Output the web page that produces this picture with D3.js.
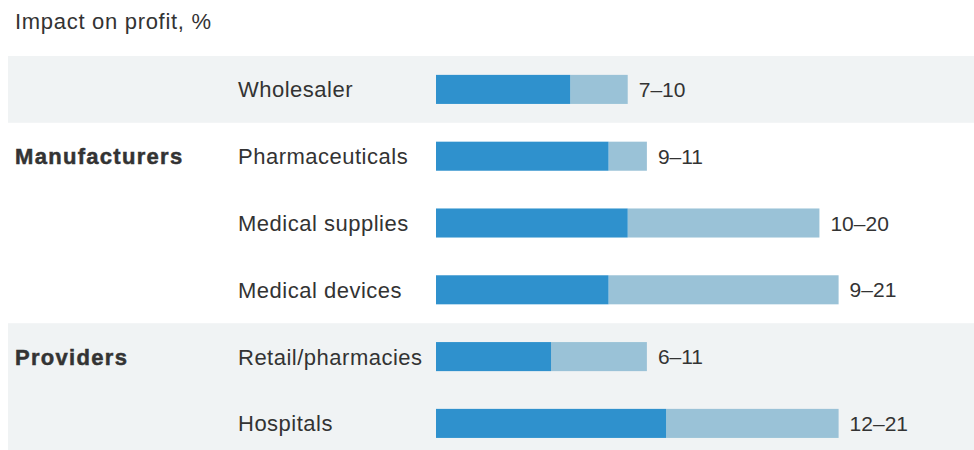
<!DOCTYPE html>
<html>
<head>
<meta charset="utf-8">
<script src="https://cdn.jsdelivr.net/npm/d3@7/dist/d3.min.js"></script>
<style>
    html, body { margin: 0; padding: 0; background: #ffffff; }
    text { font-family: "Liberation Sans", Arial, Helvetica, sans-serif; fill: #333333; }
</style>
</head>
<body>
<div id="chart"></div>
<script>

// chart data
var categories = [ 'Wholesaler', 'Pharmaceuticals', 'Medical supplies', 'Medical devices', 'Retail/pharmacies', 'Hospitals' ];
var lowValues  = [ 7, 9, 10, 9, 6, 12 ];
var highValues = [ 10, 11, 20, 21, 11, 21 ];
var groupNames = [ '', 'Manufacturers', 'Providers' ];
var groupOf    = [ 0, 1, 1, 1, 2, 2 ];
var titleText  = 'Impact on profit, %';

var width = 974,
    height = 450;

var svg = d3.select('#chart').append('svg')
    .attr('width', width)
    .attr('height', height);

var x = d3.scaleLinear()
    .domain([ 0, 21 ])
    .range([ 436, 838.6 ]);

var y = d3.scaleBand()
    .domain( categories )
    .range([ 56, 56 + 66.8 * categories.length ])
    .paddingInner( 0.565 )
    .paddingOuter( 0.2825 );

var step = y.step();

// shaded group bands (every other group)
groupNames.forEach( function ( name, gi ) {

    if ( gi % 2 === 1 ) return;

    var rows = categories.filter( function ( c, i ) { return groupOf[ i ] === gi; });
    var top = y( rows[ 0 ] ) + y.bandwidth() / 2 - step / 2;

    svg.append('rect')
        .attr('x', 8)
        .attr('y', top)
        .attr('width', width - 8)
        .attr('height', step * rows.length)
        .style('fill', '#f0f3f4');

});

svg.append('text')
    .attr('x', 15)
    .attr('y', 29)
    .style('font-size', '22px')
    .style('letter-spacing', '0.7px')
    .text( titleText );

var row = svg.selectAll('.row')
    .data( categories )
    .enter().append('g')
    .attr('class', 'row')
    .attr('transform', function ( d ) { return 'translate(0,' + y( d ) + ')'; });

row.append('rect')
    .attr('x', function ( d, i ) { return x( lowValues[ i ] ); })
    .attr('width', function ( d, i ) { return x( highValues[ i ] ) - x( lowValues[ i ] ); })
    .attr('height', y.bandwidth())
    .style('fill', '#9ac2d7');

row.append('rect')
    .attr('x', x( 0 ))
    .attr('width', function ( d, i ) { return x( lowValues[ i ] ) - x( 0 ); })
    .attr('height', y.bandwidth())
    .style('fill', '#2f91cd');

row.append('text')
    .attr('x', 238)
    .attr('y', y.bandwidth() / 2)
    .attr('dy', '0.36em')
    .style('font-size', '22px')
    .style('letter-spacing', '0.5px')
    .text( function ( d ) { return d; });

row.append('text')
    .attr('x', function ( d, i ) { return x( highValues[ i ] ) + 11; })
    .attr('y', y.bandwidth() / 2)
    .attr('dy', '0.36em')
    .style('font-size', '21px')
    .text( function ( d, i ) { return lowValues[ i ] + '\u2013' + highValues[ i ]; });

// group labels on the first row of each group
row.filter( function ( d, i ) { return groupNames[ groupOf[ i ] ] && i === groupOf.indexOf( groupOf[ i ] ); })
    .append('text')
    .attr('x', 15)
    .attr('y', y.bandwidth() / 2)
    .attr('dy', '0.36em')
    .style('font-size', '22px')
    .style('font-weight', 'bold')
    .style('letter-spacing', '1.3px')
    .style('stroke', '#333333')
    .style('stroke-width', '0.5px')
    .text( function ( d ) { return groupNames[ groupOf[ categories.indexOf( d ) ] ]; });

</script>
</body>
</html>
